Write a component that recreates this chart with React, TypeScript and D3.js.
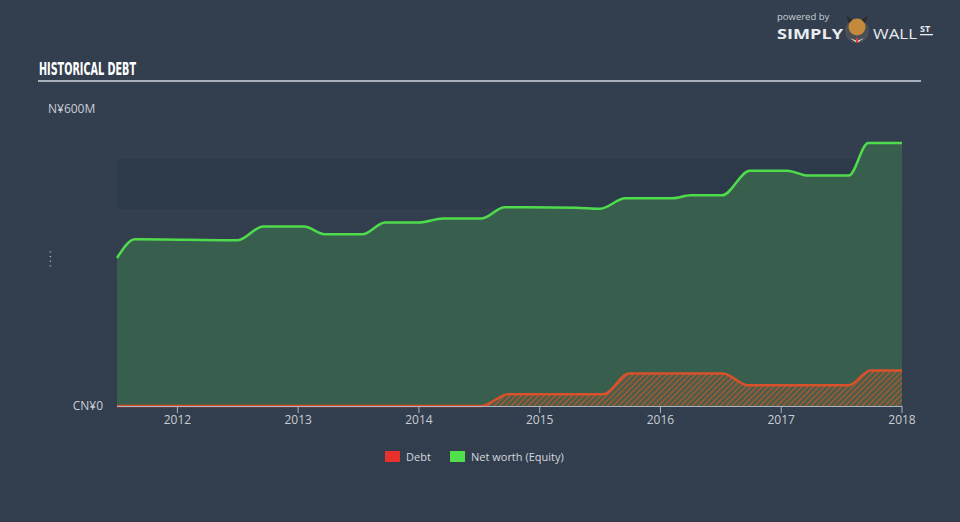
import React from "react";
import * as d3 from "d3";

const W = 960;
const H = 522;

const yTickLabels = ["CN¥0", "N¥600M"];
const xTickYears = [2012, 2013, 2014, 2015, 2016, 2017, 2018];

// Net worth (Equity), in millions, by decimal year
const equityDates = [2011.5, 2011.65, 2012.5, 2012.71, 2013.05, 2013.22, 2013.53, 2013.72, 2014.0, 2014.2, 2014.52, 2014.71, 2015.3, 2015.5, 2015.71, 2016.1, 2016.25, 2016.51, 2016.74, 2017.05, 2017.22, 2017.56, 2017.72, 2018.0];
const equityValues = [300, 338, 336, 364, 364, 348, 348, 372, 372, 380, 380, 403, 402, 400, 421, 421, 427, 427, 477, 477, 467, 467, 533, 533];

// Debt, in millions
const debtDates = [2011.5, 2014.52, 2014.74, 2015.53, 2015.74, 2016.52, 2016.72, 2017.56, 2017.74, 2018.0];
const debtValues = [0, 0, 24, 24, 66, 66, 42, 42, 72, 72];

const legendLabels = ["Debt", "Net worth (Equity)"];

export default function App() {
  const x = d3.scaleLinear().domain([2011.5, 2018.0]).range([117, 902]);
  const y = d3.scaleLinear().domain([0, 600]).range([406, 110]);

  const eq = equityDates.map((d, i) => [d, equityValues[i]] as [number, number]);
  const db = debtDates.map((d, i) => [d, debtValues[i]] as [number, number]);

  const area = d3
    .area<[number, number]>()
    .x((d) => x(d[0]))
    .y0(y(0))
    .y1((d) => y(d[1]))
    .curve(d3.curveMonotoneX);
  const line = d3
    .line<[number, number]>()
    .x((d) => x(d[0]))
    .y((d) => y(d[1]))
    .curve(d3.curveMonotoneX);

  const font = "'Open Sans', 'DejaVu Sans', sans-serif";

  return (
    <svg
      width={W}
      height={H}
      style={{ position: "absolute", left: 0, top: 0, display: "block" }}
    >
      <defs>
        <linearGradient id="bg" x1="0" y1="0" x2="0" y2="1">
          <stop offset="0" stopColor="#333f4f" />
          <stop offset="1" stopColor="#323e4e" />
        </linearGradient>
        <pattern id="hatch" width="4" height="4" patternUnits="userSpaceOnUse" patternTransform="rotate(45)">
          <rect width="4" height="4" fill="#4a5e48" />
          <line x1="0" y1="0" x2="0" y2="4" stroke="#c8542e" strokeWidth="2" />
        </pattern>
      </defs>
      <rect width={W} height={H} fill="url(#bg)" />

      {/* title */}
      <text x={39} y={75} fill="#ffffff" fontFamily="'DejaVu Sans Condensed', 'DejaVu Sans', sans-serif" fontWeight="bold" fontSize={17} textLength={97} lengthAdjust="spacingAndGlyphs">
        HISTORICAL DEBT
      </text>
      <rect x={38} y={80} width={883} height={2} fill="#a9b0ba" />

      {/* logo */}
      <text x={777} y={20} fill="#c9cfd6" fontFamily={font} fontSize={9.5}>powered by</text>
      <text x={777} y={39} fill="#e9ecef" fontFamily={font} fontWeight="bold" fontSize={15} textLength={66} lengthAdjust="spacingAndGlyphs">SIMPLY</text>
      <circle cx={857} cy={31} r={12} fill="#4a4e57" />
      <circle cx={857} cy={27} r={8.5} fill="#c28a3a" />
      <path d="M846 15 L849 23 L852 20 Z M868 15 L865 23 L862 20 Z" fill="#2b2b2b" />
      <path d="M850 38 L857 43 L864 38 L857 41 Z" fill="#e8e8e8" />
      <rect x={856} y={38} width={2} height={5} fill="#d9402a" />
      <text x={873} y={39} fill="#e9ecef" fontFamily={font} fontSize={15} textLength={44} lengthAdjust="spacingAndGlyphs">WALL</text>
      <text x={920} y={32} fill="#e9ecef" fontFamily={font} fontWeight="bold" fontSize={9}>ST</text>
      <rect x={920} y={34} width={13} height={1.3} fill="#e9ecef" />

      {/* darker band 400M-500M */}
      <rect x={117} y={y(500)} width={785} height={y(400) - y(500)} fill="#2d3a4a" />

      {/* equity */}
      <path d={area(eq) || ""} fill="#385f4d" />
      <path d={line(eq) || ""} fill="none" stroke="#4fdc4c" strokeWidth={2.5} />

      {/* debt */}
      <path d={area(db) || ""} fill="url(#hatch)" />
      <path d={line(db) || ""} fill="none" stroke="#d9512b" strokeWidth={2.5} />

      {/* y labels */}
      <text x={48} y={113} fill="#c8cdd3" fontFamily={font} fontSize={12}>{yTickLabels[1]}</text>
      <text x={103} y={410} textAnchor="end" fill="#c8cdd3" fontFamily={font} fontSize={12}>{yTickLabels[0]}</text>
      <text x={0} y={0} transform="translate(51,258) rotate(-90)" textAnchor="middle" fill="#c8cdd3" fontFamily={font} fontSize={10} letterSpacing={2}>....</text>

      {/* x axis */}
      <line x1={117} x2={902} y1={406.5} y2={406.5} stroke="#a9b6c6" strokeWidth={1} />
      {xTickYears.map((t) => (
        <g key={t}>
          <line x1={x(t)} x2={x(t)} y1={406} y2={413} stroke="#a9b6c6" strokeWidth={1} />
          <text x={x(t)} y={424} textAnchor="middle" fill="#c8cdd3" fontFamily={font} fontSize={12}>
            {t}
          </text>
        </g>
      ))}

      {/* legend */}
      <rect x={385} y={451} width={15} height={11} fill="#e8302d" />
      <text x={406} y={461} fill="#d4d8dd" fontFamily={font} fontSize={11}>{legendLabels[0]}</text>
      <rect x={450} y={451} width={15} height={11} fill="#4fe04c" />
      <text x={471} y={461} fill="#d4d8dd" fontFamily={font} fontSize={11}>{legendLabels[1]}</text>
    </svg>
  );
}
